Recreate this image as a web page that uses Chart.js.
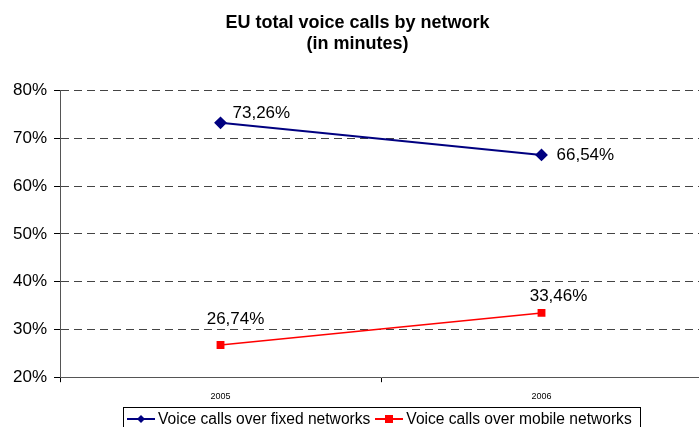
<!DOCTYPE html>
<html>
<head>
<meta charset="utf-8">
<script src="https://cdn.jsdelivr.net/npm/chart.js@4"></script>
<style>
  html, body { margin: 0; padding: 0; background: #fff; overflow: hidden; }
  #wrap { position: relative; width: 709px; height: 427px; }
  #legend {
    position: absolute; left: 123px; top: 407px; width: 518px; height: 26px;
    border: 1px solid #000; box-sizing: border-box;
    font: 15.6px "Liberation Sans", Arial, sans-serif; color: #000;
    display: flex; align-items: flex-start; padding-left: 3px; padding-top: 2px; white-space: nowrap;
  }
  #legend span.item { display: inline-flex; align-items: center; margin-right: 5px; }
  #legend canvas { margin-right: 3px; }
</style>
</head>
<body>
<div id="wrap">
  <canvas id="chart" width="709" height="411"></canvas>
  <div id="legend"></div>
</div>
<script>
// ==================== DATOS ====================
const years = ['2005', '2006'];
const fixedCalls = [73.26, 66.54];
const mobileCalls = [26.74, 33.46];
const seriesNames = ['Voice calls over fixed networks', 'Voice calls over mobile networks'];
const yTicks = [20, 30, 40, 50, 60, 70, 80];

const FONT = '"Liberation Sans", Arial, sans-serif';

function fmt(v) {
    return v.toFixed(2).replace('.', ',') + '%';
}

// etiquetas de datos
const labelPlugin = {
    id: 'pointLabels',
    afterDatasetsDraw(chart) {
        const ctx = chart.ctx;
        ctx.save();
        ctx.font = '17px ' + FONT;
        ctx.fillStyle = '#000';
        ctx.textBaseline = 'middle';
        chart.data.datasets.forEach((ds, di) => {
            const meta = chart.getDatasetMeta(di);
            meta.data.forEach((pt, i) => {
                const txt = fmt(ds.data[i]);
                if (di === 0) {
                    ctx.textAlign = 'left';
                    ctx.fillText(txt, pt.x + (i === 0 ? 12 : 15), pt.y + (i === 0 ? -9 : 0));
                } else {
                    ctx.textAlign = 'center';
                    ctx.fillText(txt, pt.x + (i === 0 ? 15 : 17), pt.y - (i === 0 ? 26 : 17));
                }
            });
        });
        ctx.restore();
    }
};

const chart = new Chart(document.getElementById('chart').getContext('2d'), {
    type: 'line',
    data: {
        labels: years,
        datasets: [{
            label: seriesNames[0],
            data: fixedCalls,
            borderColor: '#000080',
            backgroundColor: '#000080',
            borderWidth: 2,
            pointStyle: 'rectRot',
            pointRadius: 5,
            tension: 0
        }, {
            label: seriesNames[1],
            data: mobileCalls,
            borderColor: '#ff0000',
            backgroundColor: '#ff0000',
            borderWidth: 1.5,
            pointStyle: 'rect',
            pointRadius: 4.5,
            tension: 0
        }]
    },
    options: {
        responsive: false,
        animation: false,
        layout: { padding: { left: 6, right: 0, top: 0, bottom: 0 } },
        plugins: {
            legend: { display: false },
            tooltip: { enabled: false },
            title: {
                display: true,
                text: ['EU total voice calls by network', '(in minutes)'],
                font: { family: FONT, size: 18, weight: 'bold' },
                color: '#000',
                lineHeight: 1.38,
                padding: { top: 12, bottom: 35.4 }
            }
        },
        scales: {
            x: {
                offset: true,
                grid: {
                    offset: true,
                    drawOnChartArea: false,
                    drawTicks: true,
                    tickLength: 5,
                    color: '#000'
                },
                border: { color: '#555', width: 1 },
                ticks: { font: { family: FONT, size: 9 }, color: '#000', padding: 9 }
            },
            y: {
                min: 20,
                max: 80,
                afterBuildTicks(axis) {
                    axis.ticks = yTicks.map(v => ({ value: v }));
                },
                grid: {
                    color: ctx => (ctx.tick && ctx.tick.value === 20) ? 'rgba(0,0,0,0)' : '#444',
                    tickColor: '#000',
                    tickLength: 6,
                    drawTicks: true
                },
                border: { color: '#555', width: 1, dash: [8, 5] },
                ticks: {
                    font: { family: FONT, size: 17 },
                    color: '#000',
                    padding: 7,
                    callback: v => v + '%'
                }
            }
        }
    },
    plugins: [labelPlugin]
});

// leyenda HTML
const legend = document.getElementById('legend');
chart.data.datasets.forEach((ds) => {
    const item = document.createElement('span');
    item.className = 'item';
    const c = document.createElement('canvas');
    c.width = 28; c.height = 14;
    const g = c.getContext('2d');
    g.strokeStyle = ds.borderColor;
    g.lineWidth = 2;
    g.beginPath(); g.moveTo(0, 7); g.lineTo(28, 7); g.stroke();
    g.fillStyle = ds.backgroundColor;
    if (ds.pointStyle === 'rectRot') {
        g.beginPath(); g.moveTo(14, 3); g.lineTo(18, 7); g.lineTo(14, 11); g.lineTo(10, 7); g.closePath(); g.fill();
    } else {
        g.fillRect(10, 3, 8, 8);
    }
    item.appendChild(c);
    item.appendChild(document.createTextNode(ds.label));
    legend.appendChild(item);
});
</script>
</body>
</html>
